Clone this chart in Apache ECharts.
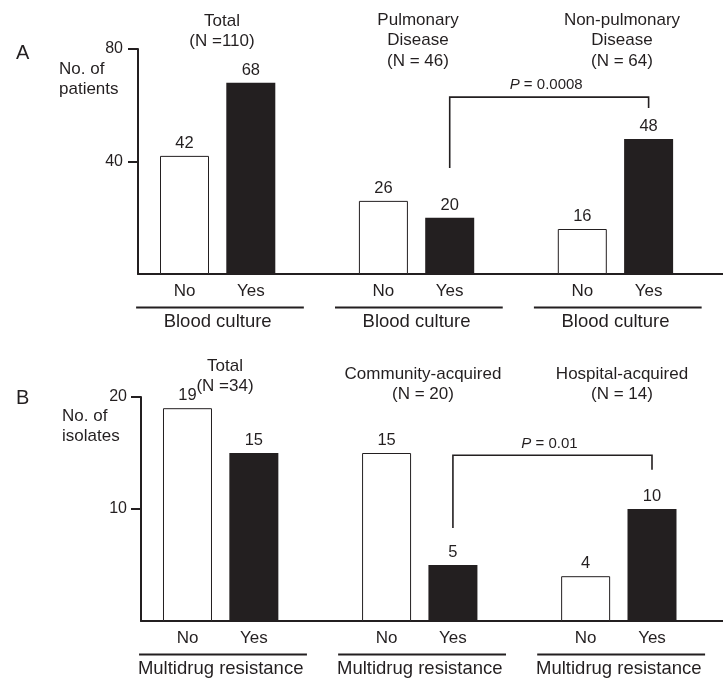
<!DOCTYPE html>
<html><head><meta charset="utf-8">
<script src="https://cdn.jsdelivr.net/npm/echarts@6/dist/echarts.min.js"></script>
<style>html,body{margin:0;padding:0;background:#fff}#c{width:723px;height:681px}</style>
</head><body><div id="c"></div>
<script>
// ---------- data ----------
const barLabels = ['No', 'Yes'];

const titlesA = ['Total\n(N =110)', 'Pulmonary\nDisease\n(N = 46)', 'Non-pulmonary\nDisease\n(N = 64)'];
const noA = [42, 26, 16];
const yesA = [68, 20, 48];
const groupNameA = 'Blood culture';
const yNameA = 'No. of\npatients';
const yTicksA = [40, 80];
const pValueA = '0.0008';

const titlesB = ['Total\n(N =34)', 'Community-acquired\n(N = 20)', 'Hospital-acquired\n(N = 14)'];
const noB = [19, 15, 4];
const yesB = [15, 5, 10];
const groupNameB = 'Multidrug resistance';
const yNameB = 'No. of\nisolates';
const yTicksB = [10, 20];
const pValueB = '0.01';

// compared bars: [group, bar] -> [group, bar]
const compare = [[1, 1], [2, 1]];

// ---------- layout / style ----------
const INK = '#231f20';
const FONT = '"Liberation Sans", Arial, Helvetica, sans-serif';
const STEP = 3; // categories per group (2 bars + gap)
const bracketA = { top: 62.9, leftEnd: 37.7, rightEnd: 59.0, text: 67.2 };
const bracketB = { top: 14.8, leftEnd: 8.3, rightEnd: 13.5, text: 15.8 };

const chart = echarts.init(document.getElementById('c'), null, { renderer: 'canvas' });

function xAxisCfg(gridIndex, min, max) {
  const vals = [];
  for (let g = 0; g < 3; g++) for (let k = 0; k < 2; k++) vals.push(g * STEP + k);
  return {
    type: 'value', gridIndex, min, max,
    axisLine: { show: true, onZero: false, lineStyle: { color: INK, width: 2 } },
    axisTick: { show: false },
    splitLine: { show: false },
    axisLabel: {
      customValues: vals,
      formatter: v => barLabels[Math.round(v) % STEP],
      color: INK, fontSize: 17, fontFamily: FONT, margin: 9
    }
  };
}
function yAxisCfg(gridIndex, max, ticks, margin) {
  return {
    type: 'value', gridIndex, min: 0, max,
    axisLine: { show: true, onZero: false, lineStyle: { color: INK, width: 2 } },
    axisTick: { show: true, customValues: ticks, length: 10, lineStyle: { color: INK, width: 2 } },
    splitLine: { show: false },
    axisLabel: { customValues: ticks, color: INK, fontSize: 16, fontFamily: FONT, margin }
  };
}
function barSeries(idx, vals, offset, isYes) {
  return {
    type: 'bar', xAxisIndex: idx, yAxisIndex: idx,
    data: vals.map((v, g) => [g * STEP + offset, v]),
    barWidth: 49, barGap: '-100%',
    itemStyle: isYes ? { color: INK } : { color: '#fff', borderColor: INK, borderWidth: 1 },
    label: { show: true, position: 'top', distance: 4, color: INK, fontSize: 16.5, fontFamily: FONT },
    silent: true, animation: false
  };
}
function groupSeries(idx, titles, name) {
  return {
    type: 'custom', xAxisIndex: idx, yAxisIndex: idx, silent: true, animation: false,
    data: titles.map((t, g) => [g * STEP + 0.5, 0]),
    renderItem: (params, api) => {
      const c = api.value(0);
      const p0 = api.coord([c - 1.23, 0]);
      const p1 = api.coord([c + 1.3, 0]);
      const pc = api.coord([c, 0]);
      const y = p0[1] + 33.5;
      return { type: 'group', children: [
        { type: 'line', shape: { x1: p0[0], y1: y, x2: p1[0], y2: y }, style: { stroke: INK, lineWidth: 2 } },
        { type: 'text', x: pc[0], y: p0[1] + 47.8, style: { text: name, fill: INK, fontSize: 18.5, fontFamily: FONT, align: 'center', verticalAlign: 'middle' } }
      ] };
    }
  };
}
function bracketSeries(idx, spec, pval) {
  const xa = compare[0][0] * STEP + compare[0][1];
  const xb = compare[1][0] * STEP + compare[1][1];
  return {
    type: 'custom', xAxisIndex: idx, yAxisIndex: idx, silent: true, animation: false,
    data: [[xa, xb]],
    encode: { x: [0, 1] },
    renderItem: (params, api) => {
      const a = api.value(0), b = api.value(1);
      const p1 = api.coord([a, spec.leftEnd]);
      const p2 = api.coord([a, spec.top]);
      const p3 = api.coord([b, spec.top]);
      const p4 = api.coord([b, spec.rightEnd]);
      const pt = api.coord([a + (b - a) * 0.485, spec.text]);
      return { type: 'group', children: [
        { type: 'polyline', shape: { points: [p1, p2, p3, p4] }, style: { stroke: INK, lineWidth: 1.6, fill: null } },
        { type: 'text', x: pt[0], y: pt[1], style: {
            text: '{i|P} = ' + pval, fill: INK, fontSize: 15, fontFamily: FONT,
            align: 'center', verticalAlign: 'middle',
            rich: { i: { fontStyle: 'italic', fontSize: 15, fontFamily: FONT, fill: INK } } } }
      ] };
    }
  };
}
function txt(x, y, text, size, align, lh) {
  return { type: 'text', x, y, silent: true,
    style: { text, fill: INK, fontSize: size, fontFamily: FONT, align: align || 'center', verticalAlign: 'top', lineHeight: lh || size * 1.2 } };
}

const titleXA = [222, 418, 622], titleTopA = [11, 10, 10];
const titleXB = [225, 423, 622], titleTopB = [356, 364, 364];

const graphics = [
  txt(16, 41, 'A', 20, 'left'),
  txt(16, 386, 'B', 20, 'left'),
  txt(59, 59, yNameA, 17, 'left', 20),
  txt(62, 406, yNameB, 17, 'left', 20)
];
titlesA.forEach((t, g) => graphics.push(txt(titleXA[g], titleTopA[g], t, 17, 'center', 20.5)));
titlesB.forEach((t, g) => graphics.push(txt(titleXB[g], titleTopB[g], t, 17, 'center', 20.5)));

chart.setOption({
  backgroundColor: '#fff',
  animation: false,
  grid: [
    { left: 138, top: 49, width: 585, height: 225 },
    { left: 141, top: 397, width: 582, height: 224 }
  ],
  xAxis: [xAxisCfg(0, -0.7014, 8.122), xAxisCfg(1, -0.7007, 8.070)],
  yAxis: [yAxisCfg(0, 80, yTicksA, 15), yAxisCfg(1, 20, yTicksB, 14)],
  series: [
    barSeries(0, noA, 0, false), barSeries(0, yesA, 1, true),
    groupSeries(0, titlesA, groupNameA), bracketSeries(0, bracketA, pValueA),
    barSeries(1, noB, 0, false), barSeries(1, yesB, 1, true),
    groupSeries(1, titlesB, groupNameB), bracketSeries(1, bracketB, pValueB)
  ],
  graphic: graphics
});
</script></body></html>
